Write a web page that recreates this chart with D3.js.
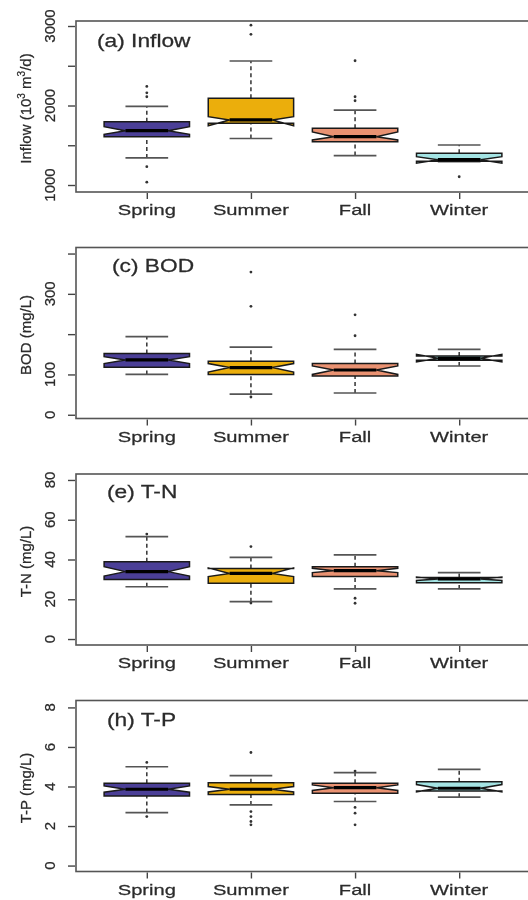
<!DOCTYPE html>
<html>
<head>
<meta charset="utf-8">
<script src="https://cdn.jsdelivr.net/npm/d3@7"></script>
<style>
  body { margin: 0; background: #fff; }
  svg { filter: blur(0.35px); }
  text { font-family: "Liberation Sans", Arial, sans-serif; fill: #2b2b2b; stroke: #2b2b2b; stroke-width: 0.25; }
</style>
</head>
<body>
<script>
// seasons + fills
var seasons = ["Spring", "Summer", "Fall", "Winter"];
var seasonFill = ["#4b3f97", "#ebae0c", "#ea9272", "#a4e4e4"];

// box stats: [lowWhisker, q1, notchLo, median, notchHi, q3, highWhisker]
var inflowStats = [
  [1340, 1608, 1638, 1683, 1733, 1796, 1990],
  [1585, 1776, 1746, 1818, 1859, 2091, 2560],
  [1370, 1545, 1566, 1608, 1668, 1713, 1943],
  [1295, 1300, 1275, 1318, 1356, 1398, 1503]
];
var inflowOutliers = [[2240, 2160, 2110, 1230, 1035], [3010, 2895], [2563, 2110, 2060], [1104]];

var bodStats = [
  [100, 118, 127, 136, 144, 152, 194],
  [51, 100, 106, 117, 127, 133, 168],
  [54, 96, 100, 111, 121, 127, 162],
  [121, 135, 131, 140, 150, 146, 162]
];
var bodOutliers = [[], [354, 269, 44], [248, 196], []];

var tnStats = [
  [26.3, 30, 31.7, 33.9, 36.4, 38.9, 51.5],
  [18.8, 28, 31.4, 33, 35.8, 35.5, 41.1],
  [25.2, 31.4, 33.4, 34.4, 35.6, 36.4, 42.3],
  [25.2, 28.3, 29.5, 30.2, 31.2, 31, 33.4]
];
var tnOutliers = [[52.8], [46.5, 18.1], [20.5, 18], []];

var tpStats = [
  [2.68, 3.52, 3.71, 3.86, 4.03, 4.16, 5.0],
  [3.07, 3.6, 3.72, 3.86, 4.0, 4.19, 4.55],
  [3.24, 3.66, 3.8, 3.94, 4.08, 4.16, 4.7],
  [3.46, 3.77, 3.73, 3.91, 4.1, 4.24, 4.87]
];
var tpOutliers = [[5.22, 2.48], [5.72, 2.73, 2.48, 2.23, 2.06], [4.78, 2.94, 2.65, 2.06], []];

// axis ticks and labels
var inflowTicks = [1000, 1500, 2000, 2500, 3000];
var inflowTickLabels = ["1000", "", "2000", "", "3000"];
var bodTicks = [0, 100, 200, 300, 400];
var bodTickLabels = ["0", "100", "", "300", ""];
var tnTicks = [0, 20, 40, 60, 80];
var tnTickLabels = ["0", "20", "40", "60", "80"];
var tpTicks = [0, 2, 4, 6, 8];
var tpTickLabels = ["0", "2", "4", "6", "8"];

var panelTitles = ["(a) Inflow", "(c) BOD", "(e) T-N", "(h) T-P"];

var panels = [
  {stats: inflowStats, out: inflowOutliers, ticks: inflowTicks, labels: inflowTickLabels, domain: [912, 3063], ylab: "inflow", tx: 97, ty: 26},
  {stats: bodStats, out: bodOutliers, ticks: bodTicks, labels: bodTickLabels, domain: [-9.3, 415], ylab: "BOD (mg/L)", tx: 112, ty: 24},
  {stats: tnStats, out: tnOutliers, ticks: tnTicks, labels: tnTickLabels, domain: [-3, 83], ylab: "T-N (mg/L)", tx: 107, ty: 24},
  {stats: tpStats, out: tpOutliers, ticks: tpTicks, labels: tpTickLabels, domain: [-0.3, 8.35], ylab: "T-P (mg/L)", tx: 107, ty: 25}
];

var W = 528, H = 900;
var left = 76, right = 530, ph = 171;
var stretch = 1.3;

var svg = d3.select("body").append("svg")
  .attr("width", W)
  .attr("height", H);
svg.append("rect").attr("width", W).attr("height", H).attr("fill", "#fff");

var x = d3.scaleLinear().domain([0.32, 4.68]).range([left, right]);
var bw = x(0.41) - x(0);   // half box width

panels.forEach(function(p, pi){
  var top = 21 + pi * 226.5, bottom = top + ph;
  var y = d3.scaleLinear().domain(p.domain).range([bottom, top]);
  var g = svg.append("g");

  // frame
  g.append("rect")
    .attr("x", left).attr("y", top)
    .attr("width", right - left).attr("height", ph)
    .attr("fill", "none").attr("stroke", "#555").attr("stroke-width", 1.6);

  // y axis
  var yAxis = d3.axisLeft(y).tickValues(p.ticks).tickSize(7).tickFormat("");
  var ya = g.append("g").attr("transform", "translate(" + (left - 1) + ",0)").call(yAxis);
  ya.select(".domain").remove();
  ya.selectAll("line").attr("stroke", "#444").attr("stroke-width", 1.4);
  g.selectAll(".ylab")
    .data(p.ticks)
    .enter()
    .append("text")
    .attr("transform", function(d){ return "translate(55," + y(d) + ") rotate(-90)"; })
    .attr("text-anchor", "middle")
    .attr("font-size", 15)
    .text(function(d, i){ return p.labels[i]; });

  // x axis
  var xAxis = d3.axisBottom(x).tickValues([1, 2, 3, 4]).tickSize(6).tickFormat("");
  var xa = g.append("g").attr("transform", "translate(0," + (bottom + 1) + ")").call(xAxis);
  xa.select(".domain").remove();
  xa.selectAll("line").attr("stroke", "#444").attr("stroke-width", 1.4);
  g.selectAll(".xlab")
    .data(seasons)
    .enter()
    .append("text")
    .attr("transform", function(d, i){ return "translate(" + x(i + 1) + "," + (bottom + 23) + ") scale(" + stretch + ",1)"; })
    .attr("text-anchor", "middle")
    .attr("font-size", 15.5)
    .text(function(d){ return d; });

  // y title
  var yt = g.append("text")
    .attr("transform", "translate(31," + (top + ph / 2 + 2) + ") rotate(-90)")
    .attr("text-anchor", "middle")
    .attr("font-size", 15);
  if (p.ylab == "inflow") {
    yt.append("tspan").text("Inflow (10");
    yt.append("tspan").attr("font-size", 10).attr("dy", -6).text("3");
    yt.append("tspan").attr("dy", 6).text(" m");
    yt.append("tspan").attr("font-size", 10).attr("dy", -6).text("3");
    yt.append("tspan").attr("dy", 6).text("/d)");
  } else {
    yt.text(p.ylab);
  }

  // panel title
  g.append("text")
    .attr("transform", "translate(" + p.tx + "," + (top + p.ty) + ") scale(" + stretch + ",1)")
    .attr("font-size", 17.5)
    .text(panelTitles[pi]);

  // boxes
  p.stats.forEach(function(s, i){
    var cx = x(i + 1);
    // whiskers (dashed)
    g.append("line")
      .attr("x1", cx).attr("x2", cx)
      .attr("y1", y(s[0])).attr("y2", y(s[1]))
      .attr("stroke", "#333").attr("stroke-width", 1.5).attr("stroke-dasharray", "4,3");
    g.append("line")
      .attr("x1", cx).attr("x2", cx)
      .attr("y1", y(s[5])).attr("y2", y(s[6]))
      .attr("stroke", "#333").attr("stroke-width", 1.5).attr("stroke-dasharray", "4,3");
    // caps
    [s[0], s[6]].forEach(function(v){
      g.append("line")
        .attr("x1", cx - bw / 2).attr("x2", cx + bw / 2)
        .attr("y1", y(v)).attr("y2", y(v))
        .attr("stroke", "#555").attr("stroke-width", 1.7);
    });
    // notched box
    var pts = [
      [cx - bw, y(s[1])], [cx - bw, y(s[2])], [cx - bw / 2, y(s[3])], [cx - bw, y(s[4])], [cx - bw, y(s[5])],
      [cx + bw, y(s[5])], [cx + bw, y(s[4])], [cx + bw / 2, y(s[3])], [cx + bw, y(s[2])], [cx + bw, y(s[1])]
    ];
    g.append("path")
      .attr("d", d3.line()(pts) + "Z")
      .attr("fill", seasonFill[i])
      .attr("stroke", "#1a1a1a").attr("stroke-width", 1.5)
      .attr("stroke-linejoin", "miter");
    // median
    g.append("line")
      .attr("x1", cx - bw / 2).attr("x2", cx + bw / 2)
      .attr("y1", y(s[3])).attr("y2", y(s[3]))
      .attr("stroke", "#000").attr("stroke-width", 3.2);
    // outliers
    g.selectAll(".out" + i)
      .data(p.out[i])
      .enter()
      .append("circle")
      .attr("cx", cx).attr("cy", function(d){ return y(d); })
      .attr("r", 1.4)
      .attr("fill", "#333");
  });
});
</script>
</body>
</html>
